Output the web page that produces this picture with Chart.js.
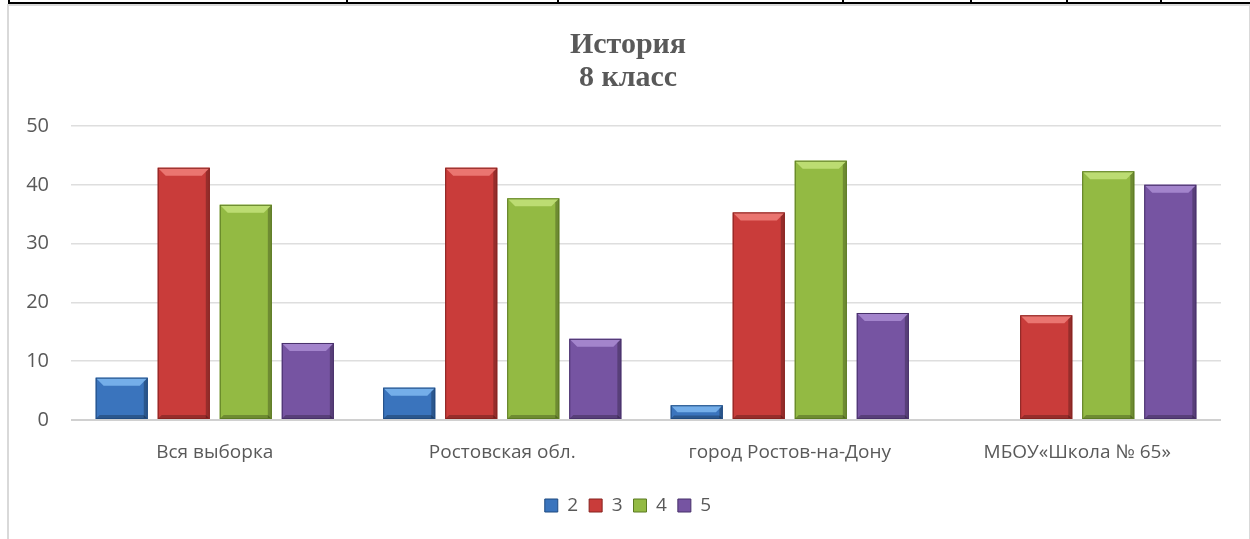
<!DOCTYPE html>
<html>
<head>
<meta charset="utf-8">
<script src="https://cdn.jsdelivr.net/npm/chart.js@4.4.1/dist/chart.umd.min.js"></script>
<style>
  body { margin: 0; background: #fff; width: 1250px; height: 539px; overflow: hidden; position: relative; }
  .tbl { position: absolute; left: 8px; top: 2px; width: 1250px; height: 0; border-top: 2px solid #000; }
  .tick { position: absolute; top: 0; width: 2px; height: 4px; background: #000; }
  .frame { position: absolute; left: 7px; top: 4px; width: 1240px; height: 540px; border: 1px solid #d9d9d9; border-width: 2px 1px 0 2px; background: #fff; }
  #wrap { position: absolute; left: 9px; top: 6px; width: 1238px; height: 533px; }
</style>
</head>
<body>
<div class="tbl"></div>
<div class="tick" style="left:8px"></div>
<div class="tick" style="left:346px"></div>
<div class="tick" style="left:557px"></div>
<div class="tick" style="left:842px"></div>
<div class="tick" style="left:970px"></div>
<div class="tick" style="left:1066px"></div>
<div class="tick" style="left:1160px"></div>
<div class="frame"></div>
<div id="wrap"><canvas id="chart"></canvas></div>
<script>
var categories = ['Вся выборка', 'Ростовская обл.', 'город Ростов-на-Дону', 'МБОУ«Школа № 65»'];
var series_names = ['2', '3', '4', '5'];
var grade2 = [7.2, 5.5, 2.5, 0];
var grade3 = [42.9, 42.9, 35.3, 17.8];
var grade4 = [36.6, 37.7, 44.1, 42.3];
var grade5 = [13.1, 13.8, 18.2, 40.0];
var y_ticks = [0, 10, 20, 30, 40, 50];

var fills = ['#3a74bd', '#c93c3a', '#93ba43', '#7654a2'];
var tops = ['#74aee9', '#ea7570', '#bcdc72', '#a384cc'];
var edges = ['#1f4a80', '#86221f', '#5b7a22', '#47306a'];

// bevel look: light top facet and darker side facets on each bar
var bevel = {
    id: 'bevel',
    afterDatasetsDraw(chart) {
        var ctx = chart.ctx;
        chart.data.datasets.forEach(function(ds, i) {
            var meta = chart.getDatasetMeta(i);
            meta.data.forEach(function(bar) {
                var h = bar.base - bar.y;
                if (h < 1) return;
                var l = bar.x - bar.width / 2, r = bar.x + bar.width / 2, t = bar.y, b = bar.base;
                var d = Math.min(8, h / 2);
                ctx.save();
                ctx.fillStyle = tops[i];
                ctx.beginPath();
                ctx.moveTo(l, t); ctx.lineTo(r, t); ctx.lineTo(r - d, t + d); ctx.lineTo(l + d, t + d); ctx.closePath();
                ctx.fill();
                ctx.globalAlpha = 0.25;
                ctx.fillStyle = '#000';
                ctx.beginPath();
                ctx.moveTo(r, t); ctx.lineTo(r, b); ctx.lineTo(r - d / 2, b); ctx.lineTo(r - d / 2, t + d / 2); ctx.closePath();
                ctx.fill();
                ctx.beginPath();
                ctx.moveTo(l, b); ctx.lineTo(r, b); ctx.lineTo(r - d / 2, b - d / 2); ctx.lineTo(l + d / 2, b - d / 2); ctx.closePath();
                ctx.fill();
                ctx.globalAlpha = 1;
                ctx.strokeStyle = edges[i];
                ctx.lineWidth = 1;
                ctx.strokeRect(l + 0.5, t + 0.5, bar.width - 1, h - 1);
                ctx.restore();
            });
        });
    }
};

var values = [grade2, grade3, grade4, grade5];
var datasets = [];
for (var i = 0; i < series_names.length; i++) {
    datasets.push({
        label: series_names[i],
        data: values[i],
        backgroundColor: fills[i],
        borderColor: edges[i],
        borderWidth: 0,
        barPercentage: 0.84,
        categoryPercentage: 0.863
    });
}

Chart.defaults.font.family = '"Open Sans", "Liberation Sans", sans-serif';
Chart.defaults.color = '#595959';

new Chart(document.getElementById('chart'), {
    type: 'bar',
    data: { labels: categories, datasets: datasets },
    plugins: [bevel],
    options: {
        responsive: true,
        maintainAspectRatio: false,
        animation: false,
        layout: { padding: { left: 0, right: 0, top: 0, bottom: 14 } },
        plugins: {
            title: {
                display: true,
                text: ['История', '8 класс'],
                color: '#595959',
                font: { family: '"Liberation Serif", serif', size: 30, weight: 'bold', lineHeight: 1.1 },
                padding: { top: 23, bottom: 31 }
            },
            legend: {
                position: 'bottom',
                labels: {
                    boxWidth: 13, boxHeight: 13, padding: 11,
                    color: '#595959',
                    font: { size: 19 },
                    generateLabels: function(chart) {
                        return chart.data.datasets.map(function(ds, i) {
                            return { text: ds.label, fillStyle: fills[i], strokeStyle: edges[i], lineWidth: 1, datasetIndex: i, fontColor: '#595959' };
                        });
                    }
                }
            },
            tooltip: { enabled: false }
        },
        scales: {
            x: {
                grid: { display: false, drawTicks: false },
                border: { display: false },
                afterFit: function(s) { s.height = 65; },
                ticks: { font: { size: 19 }, color: '#595959', padding: 21 }
            },
            y: {
                min: 0, max: 50,
                afterBuildTicks: function(s) { s.ticks = y_ticks.map(function(v) { return { value: v }; }); },
                afterFit: function(s) { s.width = 62; },
                grid: { color: function(c) { return c.tick.value === 0 ? '#d0d0d0' : '#dedede'; }, lineWidth: function(c) { return c.tick.value === 0 ? 2 : 1.5; }, drawTicks: false },
                border: { display: false },
                ticks: { font: { size: 20 }, color: '#595959', padding: 22 }
            },
            // empty right-hand gap so title and legend stay centred on the whole frame
            gap: {
                position: 'right',
                grid: { display: false },
                border: { display: false },
                ticks: { display: false },
                afterFit: function(s) { s.width = 26; }
            }
        }
    }
});
</script>
</body>
</html>
